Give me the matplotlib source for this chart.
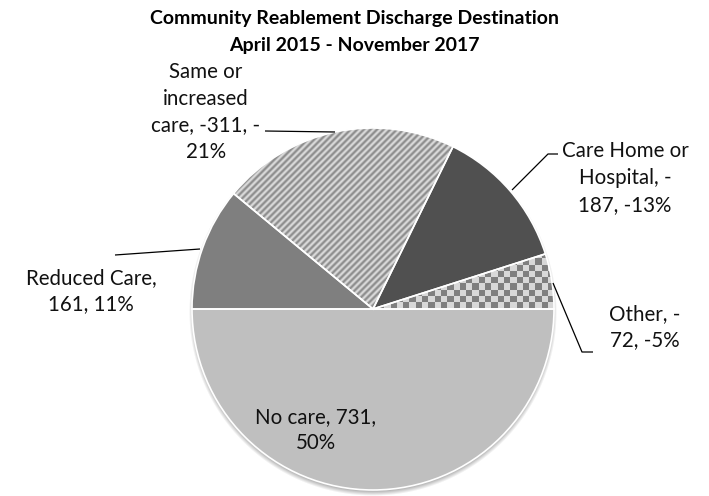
import numpy as np
import matplotlib
matplotlib.use('Agg')
import matplotlib.pyplot as plt

plt.rcParams['font.family'] = ['Lato', 'DejaVu Sans']

# discharge destinations, Apr 2015 - Nov 2017 (negative = outcome counted against)
categories = ['No care', 'Other', 'Care Home or Hospital', 'Same or increased care', 'Reduced Care']
counts = [731, -72, -187, -311, 161]
colors = ['#bfbfbf', '#d9d9d9', '#505050', '#b0b0b0', '#7f7f7f']

# how each data label is broken over lines
label_fmt = {
    'No care': 'No care, {v},\n{p}%',
    'Other': 'Other, -\n{v2}, {p}%',
    'Care Home or Hospital': 'Care Home or\nHospital, -\n{v2}, {p}%',
    'Same or increased care': 'Same or\nincreased\ncare, {v}, -\n{p2}%',
    'Reduced Care': 'Reduced Care,\n{v}, {p}%',
}

W, H = 709, 496
cx, cy, R = 373, 309, 181

fig = plt.figure(figsize=(W / 100, H / 100), dpi=100)
ax = fig.add_axes([0, 0, 1, 1])

sizes = [abs(v) for v in counts]
total = sum(sizes)

# soft drop shadow under the pie
yy, xx = np.mgrid[0:H, 0:W] + 0.5
d = np.hypot(xx - cx, yy - (cy + 3))
shadow = np.zeros((H, W, 4))
shadow[..., 3] = 0.35 * np.clip((R + 3 - d) / 6, 0, 1)
ax.imshow(shadow, extent=(0, W, H, 0), origin='upper', zorder=0)

wedges, _ = ax.pie(sizes, colors=colors, startangle=180, counterclock=False,
                   center=(cx, cy), radius=R,
                   wedgeprops={'edgecolor': 'none', 'zorder': 1})

# diagonal stripes for "Same or increased care"
s = 0.5 + 0.5 * np.sin(2 * np.pi * (xx + yy) / 6.6)
light, dark = np.array([0.86, 0.86, 0.86]), np.array([0.55, 0.55, 0.55])
stripes = light * s[..., None] + dark * (1 - s[..., None])
im = ax.imshow(stripes, extent=(0, W, H, 0), origin='upper', zorder=2,
               interpolation='bilinear')
im.set_clip_path(wedges[categories.index('Same or increased care')])

# checkerboard for "Other"
q = 6.3
chk = ((np.floor(xx / q) + np.floor(yy / q)) % 2)[..., None]
checker = np.array([0.85, 0.85, 0.85]) * chk + np.array([0.5, 0.5, 0.5]) * (1 - chk)
im2 = ax.imshow(checker, extent=(0, W, H, 0), origin='upper', zorder=2,
                interpolation='nearest')
im2.set_clip_path(wedges[categories.index('Other')])

# white slice borders on top of the textures
ax.pie(sizes, startangle=180, counterclock=False, center=(cx, cy), radius=R,
       wedgeprops={'facecolor': 'none', 'edgecolor': 'white',
                   'linewidth': 1.2, 'zorder': 3})

# data labels
label_pos = {
    'No care': (316, 430),
    'Other': (645, 327),
    'Care Home or Hospital': (625, 178),
    'Same or increased care': (206, 112),
    'Reduced Care': (91, 291),
}
for name, v in zip(categories, counts):
    pct = round(abs(v) / total * 100) * (1 if v >= 0 else -1)
    txt = label_fmt[name].format(v=v, v2=abs(v), p=pct, p2=abs(pct))
    x, y = label_pos[name]
    ax.text(x, y, txt, ha='center', va='center', fontsize=14.8,
            linespacing=1.42, color='#111111', zorder=5)

# leader lines from labels to slices
leaders = [
    [(265, 131), (335, 132)],
    [(558, 154), (548, 154), (512, 190)],
    [(115, 255), (200, 249)],
    [(553, 283), (582, 352), (593, 352)],
]
for pts in leaders:
    px, py = zip(*pts)
    ax.plot(px, py, color='black', lw=0.9, zorder=4, solid_capstyle='butt')

ax.text(354, 32, 'Community Reablement Discharge Destination\nApril 2015 - November 2017',
        ha='center', va='center', fontsize=14, fontweight='bold',
        linespacing=1.75, zorder=5)

ax.set_xlim(0, W)
ax.set_ylim(H, 0)
ax.set_aspect('equal')
ax.axis('off')

fig.savefig('out.png', dpi=100, facecolor='white')
